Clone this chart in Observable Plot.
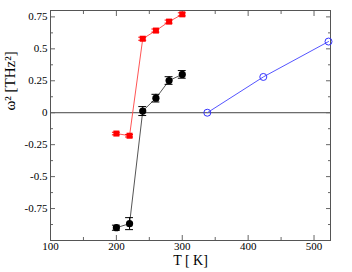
<!DOCTYPE html>
<html><head><meta charset="utf-8">
<script src="https://cdn.jsdelivr.net/npm/d3@7"></script>
<script src="https://cdn.jsdelivr.net/npm/@observablehq/plot@0.6"></script>
<style>body{margin:0;background:#fff} #chart svg text{font-family:"Liberation Serif","Times New Roman",serif !important}</style>
</head><body><div id="chart"></div>
<script>
const temps = [200, 220, 240, 260, 280, 300];
const redVals = [-0.163, -0.180, 0.579, 0.643, 0.713, 0.770];
const redErr = [0.01, 0.01, 0.012, 0.012, 0.012, 0.012];
const blackVals = [-0.90, -0.868, 0.013, 0.114, 0.252, 0.300];
const blackErr = [0.02, 0.047, 0.035, 0.03, 0.03, 0.03];
const blueT = [338, 423, 522];
const blueVals = [0, 0.28, 0.557];
const xTicks = [100, 200, 300, 400, 500];
const xMinor = [150, 250, 350, 450];
const yTicks = [-0.75, -0.5, -0.25, 0, 0.25, 0.5, 0.75];
const yMinor = [-0.875, -0.625, -0.375, -0.125, 0.125, 0.375, 0.625];

const red = temps.map((t, i) => ({t, v: redVals[i], e: redErr[i]}));
const black = temps.map((t, i) => ({t, v: blackVals[i], e: blackErr[i]}));
const blue = blueT.map((t, i) => ({t, v: blueVals[i]}));
const serif = "Liberation Serif, Times New Roman, serif";
const fmt = d => String(d);
const blank = () => "";
const capW = 6;
const caps = (data) => data.flatMap(d => [{t: d.t, y: d.v - d.e}, {t: d.t, y: d.v + d.e}]);

const chart = Plot.plot({
  width: 352, height: 272,
  marginLeft: 50, marginRight: 22, marginTop: 10, marginBottom: 32,
  x: {domain: [100, 525]},
  y: {domain: [-1, 0.8]},
  style: {fontFamily: serif, fontSize: "11px", color: "#000", background: "#fff"},
  marks: [
    Plot.ruleY([0], {stroke: "#444", strokeWidth: 1}),
    Plot.axisX(xTicks, {anchor: "bottom", tickSize: -5, tickPadding: 7, stroke: "#666", fill: "#000", fontSize: 11, label: null}),
    Plot.axisX(xMinor, {anchor: "bottom", tickSize: -3, tickFormat: blank, stroke: "#666", label: null}),
    Plot.axisX(xTicks, {anchor: "top", tickSize: -5, tickFormat: blank, stroke: "#666", label: null}),
    Plot.axisX(xMinor, {anchor: "top", tickSize: -3, tickFormat: blank, stroke: "#666", label: null}),
    Plot.axisY(yTicks, {anchor: "left", tickSize: -5, tickPadding: 8, tickFormat: fmt, stroke: "#666", fill: "#000", fontSize: 11, label: null}),
    Plot.axisY(yMinor, {anchor: "left", tickSize: -3, tickFormat: blank, stroke: "#666", label: null}),
    Plot.axisY(yTicks, {anchor: "right", tickSize: -5, tickFormat: blank, stroke: "#666", label: null}),
    Plot.axisY(yMinor, {anchor: "right", tickSize: -3, tickFormat: blank, stroke: "#666", label: null}),
    Plot.frame({stroke: "#555"}),
    Plot.line(red, {x: "t", y: "v", stroke: "#ff5555", strokeWidth: 1}),
    Plot.ruleX(red, {x: "t", y1: d => d.v - d.e, y2: d => d.v + d.e, stroke: "#ff0000"}),
    Plot.ruleY(caps(red), {y: "y", x1: d => d.t - capW, x2: d => d.t + capW, stroke: "#ff0000"}),
    Plot.dot(red, {x: "t", y: "v", symbol: "square", r: 3.4, fill: "#ff0000", stroke: "none"}),
    Plot.line(black, {x: "t", y: "v", stroke: "#555", strokeWidth: 1}),
    Plot.ruleX(black, {x: "t", y1: d => d.v - d.e, y2: d => d.v + d.e, stroke: "#000"}),
    Plot.ruleY(caps(black), {y: "y", x1: d => d.t - capW, x2: d => d.t + capW, stroke: "#000"}),
    Plot.dot(black, {x: "t", y: "v", r: 3.6, fill: "#000", stroke: "none"}),
    Plot.line(blue, {x: "t", y: "v", stroke: "#5555ff", strokeWidth: 1}),
    Plot.dot(blue, {x: "t", y: "v", r: 3.5, fill: "none", stroke: "#3333ff", strokeWidth: 1}),
    Plot.text(["T [ K]"], {frameAnchor: "bottom", dy: 24, fontSize: 14, fill: "#000"}),
    Plot.text(["ω² [THz²]"], {frameAnchor: "left", dx: -40, dy: -15, rotate: -90, fontSize: 15, fill: "#000"})
  ]
});
document.getElementById("chart").appendChild(chart);
</script>
</body></html>
